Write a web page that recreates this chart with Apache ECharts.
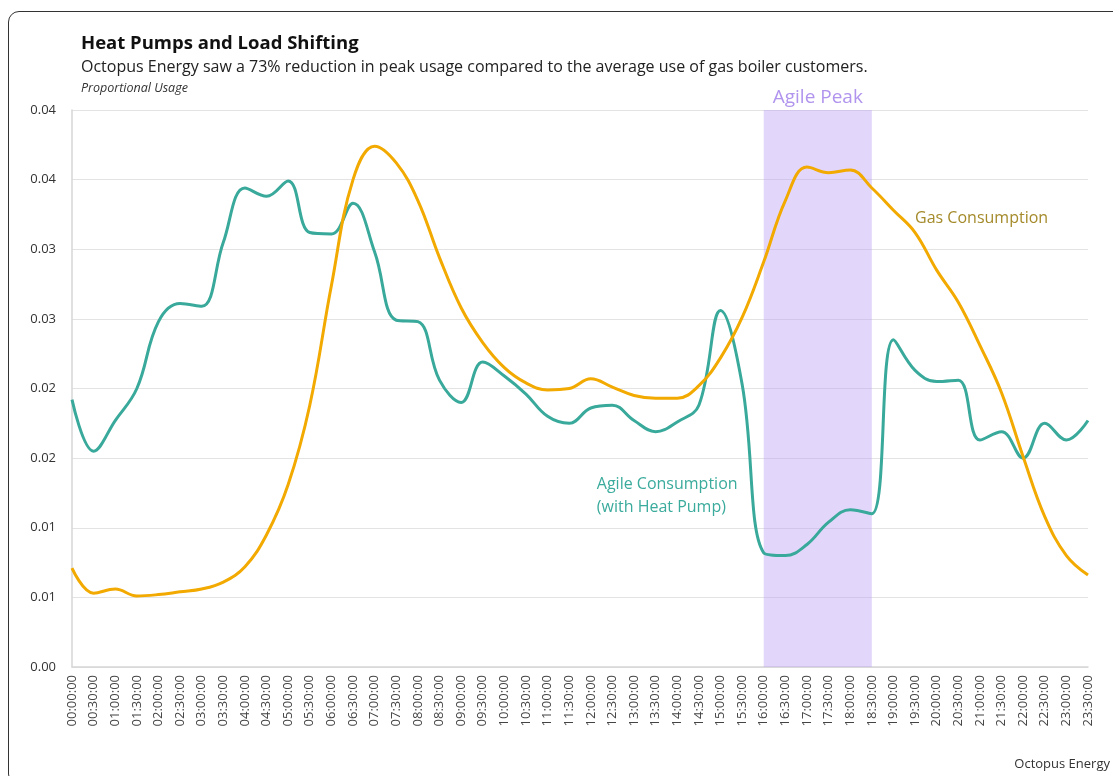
<!DOCTYPE html>
<html>
<head>
<meta charset="utf-8">
<script src="https://cdn.jsdelivr.net/npm/echarts@6/dist/echarts.min.js"></script>
<style>
  html, body { margin: 0; padding: 0; background: #fff; overflow: hidden; }
  #frame {
    position: absolute; left: 8px; top: 11px;
    width: 1120px; height: 772px;
    border: 1.5px solid #333; border-radius: 11px;
  }
  /* chart must have explicit size */
  #chart { position: absolute; left: 0; top: 0; width: 1113px; height: 776px; }
</style>
</head>
<body>
<div id="frame"></div>
<div id="chart"></div>
<script>
// half-hour slots
var times = ['00:00:00','00:30:00','01:00:00','01:30:00','02:00:00','02:30:00','03:00:00','03:30:00',
  '04:00:00','04:30:00','05:00:00','05:30:00','06:00:00','06:30:00','07:00:00','07:30:00',
  '08:00:00','08:30:00','09:00:00','09:30:00','10:00:00','10:30:00','11:00:00','11:30:00',
  '12:00:00','12:30:00','13:00:00','13:30:00','14:00:00','14:30:00','15:00:00','15:30:00',
  '16:00:00','16:30:00','17:00:00','17:30:00','18:00:00','18:30:00','19:00:00','19:30:00',
  '20:00:00','20:30:00','21:00:00','21:30:00','22:00:00','22:30:00','23:00:00','23:30:00'];

// Agile Consumption (with Heat Pump)
var agile = [0.0192, 0.0155, 0.0177, 0.0200, 0.0248, 0.0261, 0.0259, 0.0305,
  0.0344, 0.0338, 0.0349, 0.0312, 0.0311, 0.0333, 0.0298, 0.0249,
  0.0248, 0.0206, 0.0190, 0.0219, 0.0209, 0.0196, 0.0180, 0.0175,
  0.0186, 0.0188, 0.0177, 0.0169, 0.0176, 0.0188, 0.0256, 0.0203,
  0.0082, 0.0080, 0.0088, 0.0104, 0.0113, 0.0110, 0.0235, 0.0213,
  0.0205, 0.0206, 0.0163, 0.0169, 0.0150, 0.0175, 0.0163, 0.0177];

// Gas Consumption
var gas = [0.0071, 0.0053, 0.0056, 0.0051, 0.0052, 0.0054, 0.0056, 0.0061,
  0.0072, 0.0095, 0.0131, 0.0188, 0.0274, 0.0350, 0.0374, 0.0362,
  0.0335, 0.0294, 0.0258, 0.0233, 0.0215, 0.0204, 0.0199, 0.0200,
  0.0207, 0.0201, 0.0195, 0.0193, 0.0193, 0.0202, 0.0222, 0.0251,
  0.0291, 0.0335, 0.0359, 0.0355, 0.0357, 0.0344, 0.0328, 0.0312,
  0.0285, 0.0262, 0.0231, 0.0197, 0.0151, 0.0108, 0.0080, 0.0066];

// y tick labels as shown (rounded to 2 dp)
var yLabels = ['0.00','0.01','0.01','0.02','0.02','0.03','0.03','0.04','0.04'];

var peakStart = '16:00:00', peakEnd = '18:30:00';

var font = "'Open Sans', 'Noto Sans', sans-serif";
var chart = echarts.init(document.getElementById('chart'));

var option = {
  animation: false,
  textStyle: { fontFamily: font },
  title: [
    { text: 'Heat Pumps and Load Shifting', left: 76, top: 29,
      textStyle: { fontSize: 18.5, fontWeight: 'bold', color: '#111', fontFamily: font } },
    { text: 'Octopus Energy saw a 73% reduction in peak usage compared to the average use of gas boiler customers.',
      left: 76, top: 54, textStyle: { fontSize: 16, fontWeight: 'normal', color: '#222', fontFamily: font } },
    { text: 'Proportional Usage', left: 76, top: 77,
      textStyle: { fontSize: 12.5, fontStyle: 'italic', fontWeight: 'normal', color: '#333', fontFamily: font } },
    { text: 'Octopus Energy', right: -2, top: 753,
      textStyle: { fontSize: 13, fontWeight: 'normal', color: '#333', fontFamily: font } }
  ],
  grid: { left: 72, right: 25, top: 110, bottom: 109, containLabel: false },
  xAxis: {
    type: 'category',
    data: times,
    boundaryGap: false,
    axisLine: { lineStyle: { color: '#d6d6d6', width: 1.5 } },
    axisTick: { show: false },
    axisLabel: { rotate: 90, interval: 0, color: '#444', fontSize: 13, margin: 8, fontFamily: font }
  },
  yAxis: {
    type: 'value',
    min: 0, max: 0.04, interval: 0.005,
    axisLine: { show: true, lineStyle: { color: '#d6d6d6', width: 1.5 } },
    axisTick: { show: false },
    splitLine: { lineStyle: { color: '#e3e3e3', width: 1 } },
    axisLabel: {
      color: '#333', fontSize: 13, margin: 16, fontFamily: font,
      formatter: function (v) { return yLabels[Math.round(v / 0.005)]; }
    }
  },
  series: [
    {
      name: 'Agile Consumption', type: 'line', data: agile,
      smooth: 0.4, showSymbol: false, z: 2,
      lineStyle: { color: '#38a99a', width: 3 },
      itemStyle: { color: '#38a99a' },
      markPoint: {
        symbolSize: 0, silent: true,
        data: [{ coord: ['12:00:00', 0.01225],
          label: { show: true, position: 'right', distance: 0, offset: [6, 0],
            formatter: 'Agile Consumption\n(with Heat Pump)', color: '#3aab9c',
            fontSize: 16, lineHeight: 23, fontFamily: font } }]
      }
    },
    {
      name: 'Gas Consumption', type: 'line', data: gas,
      smooth: 0.4, showSymbol: false, z: 3,
      lineStyle: { color: '#f2a900', width: 3 },
      itemStyle: { color: '#f2a900' },
      markPoint: {
        symbolSize: 0, silent: true,
        data: [{ coord: ['19:30:00', 0.0322],
          label: { show: true, position: 'right', distance: 0, formatter: 'Gas Consumption',
            color: '#a48a2a', fontSize: 16, fontFamily: font } }]
      }
    },
    {
      // peak window shading, drawn above the lines
      name: 'Agile Peak', type: 'line', data: [], z: 5, silent: true,
      markArea: {
        silent: true,
        itemStyle: { color: 'rgba(185,160,245,0.42)' },
        label: { show: true, position: 'top', distance: 3, color: '#b094ee', fontSize: 19, fontFamily: font },
        data: [[{ name: 'Agile Peak', xAxis: peakStart }, { xAxis: peakEnd }]]
      }
    }
  ]
};

chart.setOption(option);
</script>
</body>
</html>
